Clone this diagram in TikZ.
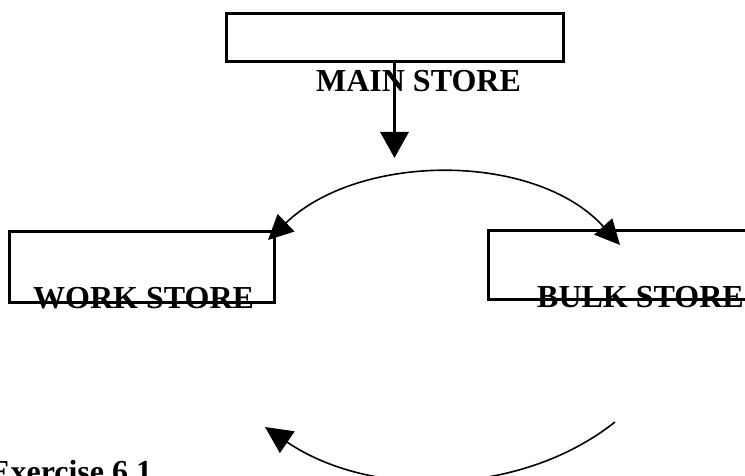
\documentclass[tikz,border=0pt]{standalone}
\usepackage{fontspec}
\setmainfont{Liberation Serif}
\usetikzlibrary{arrows.meta}

\tikzset{
  storebox/.style={draw,line width=3pt,rectangle,inner sep=0pt},
  storename/.style={inner sep=0pt,anchor=base west,font=\fontsize{32}{38}\selectfont\bfseries},
  flowarrow/.style={line width=1.6pt,-{Triangle[length=25pt,width=24pt]}},
}

\begin{document}
\begin{tikzpicture}[x=1pt,y=-1pt]
      \useasboundingbox (0,0) rectangle (745,476);
      % the three stores
      \node[storebox,minimum width=337pt,minimum height=48pt] (mainbox) at (394.5,38) {};
      \node[storebox,minimum width=265pt,minimum height=70pt] (workbox) at (141.5,267) {};
      \node[storebox,minimum width=272pt,minimum height=68pt] (bulkbox) at (624,265) {};
      % names of the stores
      \node[storename,anchor=base] (mainname) at (418.5,92) {MAIN STORE};
      \node[storename] (workname) at (33,308) {WORK STORE};
      \node[storename] (bulkname) at (537,307) {BULK STORE};
      \node[storename] (exname) at (-11,482) {Exercise 6.1};
      % ends of the arrows
      \coordinate (mainend) at (394.5,158);
      \coordinate (topL) at (268,240);
      \coordinate (topR) at (620,245);
      \coordinate (lowR) at (615,422);
      \coordinate (lowL) at (265,427);
      \draw[line width=3.2pt,-{Triangle[length=26pt,width=28pt]}] (mainbox.south) -- (mainend);
      \draw[flowarrow,{Triangle[length=25pt,width=24pt]}-{Triangle[length=25pt,width=24pt]}] (topL) .. controls (360,152) and (536,152) .. (topR);
      \draw[flowarrow,-{Triangle[length=27pt,width=26pt]}] (lowR) .. controls (519,498) and (369,498) .. (lowL);
    \end{tikzpicture}
\end{document}
